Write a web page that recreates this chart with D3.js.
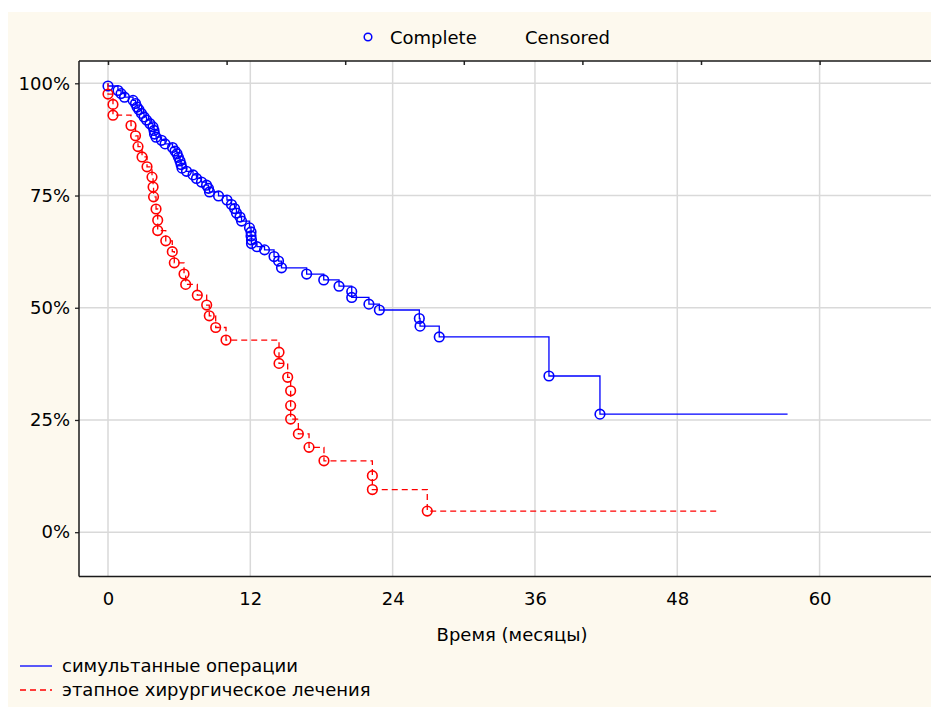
<!DOCTYPE html>
<html>
<head>
<meta charset="utf-8">
<script src="https://cdn.jsdelivr.net/npm/d3@7"></script>
<style>
  body { margin: 0; background: #ffffff; }
  svg { display: block; }
  text { font-family: "DejaVu Sans", sans-serif; font-size: 18px; fill: #000; }
</style>
</head>
<body>
<svg id="chart" width="931" height="707"></svg>
<script>
// ---- data (months, survival %) ----
const blueName = "симультанные операции";
const redName = "этапное хирургическое лечения";
const blueTimes = [0,0.84,1.10,1.39,2.11,2.32,2.45,2.61,2.82,3.04,3.25,3.54,3.79,3.88,3.92,4.05,4.51,4.81,5.44,5.65,5.82,5.94,6.07,6.16,6.24,6.62,7.17,7.46,7.88,8.31,8.47,8.56,9.32,10.03,10.41,10.67,10.83,11.13,11.26,11.93,12.06,12.06,12.10,12.10,12.56,13.20,14.00,14.38,14.63,16.75,18.19,19.48,20.55,20.55,22.00,22.88,26.25,26.31,27.93,37.18,41.48];
const blueSurv = [99.4,98.4,97.7,96.9,96.2,95.5,94.7,94.1,93.3,92.5,91.8,91.0,90.3,89.5,88.7,88.0,87.3,86.5,85.7,84.9,84.3,83.5,82.7,81.9,81.1,80.4,79.6,78.8,78.0,77.3,76.6,75.8,74.9,74.0,73.0,72.1,71.1,70.2,69.3,67.8,66.9,66.0,65.1,64.3,63.6,62.9,61.4,60.4,58.9,57.5,56.2,54.8,53.6,52.3,50.8,49.5,47.6,45.9,43.5,34.8,26.3];
const blueEnd = 57.3;
const redTimes = [0,0.42,0.42,1.94,2.32,2.53,2.87,3.29,3.71,3.80,3.84,4.05,4.19,4.19,4.87,5.42,5.59,6.41,6.55,7.53,8.32,8.54,9.08,9.95,14.42,14.42,15.15,15.40,15.40,15.40,16.05,16.95,18.21,22.29,22.29,26.92];
const redSurv = [97.6,95.3,92.9,90.6,88.3,85.9,83.6,81.4,79.1,76.9,74.7,72.0,69.5,67.2,64.9,62.5,60.0,57.5,55.2,52.8,50.6,48.2,45.6,42.8,40.1,37.6,34.5,31.5,28.2,25.2,21.9,18.9,15.9,12.6,9.5,4.7];
const redEnd = 51.6;
const xTicks = [0,12,24,36,48,60];
const topTicks = [0,10,20,30,40,50,60];
const yTicks = [0,25,50,75,100];
const yTickLabels = ["0%","25%","50%","75%","100%"];
const xTitle = "Время (месяцы)";
const topLegend = ["Complete","Censored"];

// ---- layout ----
const svg = d3.select("#chart");
const frame = {left: 79, top: 61, right: 940, bottom: 576.5};
const x = d3.scaleLinear().domain([0, 60]).range([108, 819.6]);
const y = d3.scaleLinear().domain([0, 100]).range([532.2, 83.3]);
const BLUE = "#0000ff", RED = "#ff0000";

// background
svg.append("rect").attr("x", 8).attr("y", 12).attr("width", 931 - 8).attr("height", 707 - 12).attr("fill", "#fdf9ee");
svg.append("rect").attr("x", frame.left).attr("y", frame.top)
  .attr("width", frame.right - frame.left).attr("height", frame.bottom - frame.top).attr("fill", "#ffffff");

// gridlines
const grid = svg.append("g").attr("stroke", "#d9d9d9").attr("stroke-width", 1.5);
grid.selectAll("line.v").data(xTicks).join("line")
  .attr("x1", d => x(d)).attr("x2", d => x(d)).attr("y1", frame.top).attr("y2", frame.bottom);
grid.selectAll("line.h").data(yTicks).join("line")
  .attr("x1", frame.left).attr("x2", frame.right).attr("y1", d => y(d)).attr("y2", d => y(d));

// axes
const leftAxis = d3.axisLeft(y).tickValues(yTicks).tickSize(4).tickPadding(5)
  .tickFormat((d, i) => yTickLabels[i]);
const gL = svg.append("g").attr("transform", `translate(${frame.left},0)`).call(leftAxis);
gL.select(".domain").remove();
gL.selectAll(".tick line").attr("stroke", "#222").attr("stroke-width", 1.3);
gL.selectAll(".tick text").style("font-family", "DejaVu Sans").style("font-size", "18px").attr("fill", "#000");

const bottomAxis = d3.axisBottom(x).tickValues(xTicks).tickSize(0).tickPadding(0);
const gB = svg.append("g").attr("transform", `translate(0,${frame.bottom})`).call(bottomAxis);
gB.select(".domain").remove();
gB.selectAll(".tick text").attr("dy", null).attr("y", 28.5)
  .style("font-family", "DejaVu Sans").style("font-size", "18px").attr("fill", "#000");

const topAxis = d3.axisBottom(x).tickValues(topTicks).tickSize(4).tickFormat("");
const gT = svg.append("g").attr("transform", `translate(0,${frame.top})`).call(topAxis);
gT.select(".domain").remove();
gT.selectAll(".tick line").attr("stroke", "#222").attr("stroke-width", 1.5);

// frame lines
const fr = svg.append("g").attr("stroke", "#1a1a1a").attr("stroke-width", 1.5).attr("fill", "none");
fr.append("line").attr("x1", frame.left).attr("x2", frame.right).attr("y1", frame.top).attr("y2", frame.top);
fr.append("line").attr("x1", frame.left).attr("x2", frame.right).attr("y1", frame.bottom).attr("y2", frame.bottom);
fr.append("line").attr("x1", frame.left).attr("x2", frame.left).attr("y1", frame.top).attr("y2", frame.bottom);

// curves
const stepLine = d3.line().x(d => x(d[0])).y(d => y(d[1])).curve(d3.curveStepAfter);
function series(times, surv, end, color, dash) {
  const pts = [[0, 100]].concat(times.map((t, i) => [t, surv[i]]), [[end, surv[surv.length - 1]]]);
  svg.append("path").datum(pts).attr("d", stepLine).attr("fill", "none")
    .attr("stroke", color).attr("stroke-width", 1.3).attr("stroke-dasharray", dash);
  svg.append("g").selectAll("circle").data(times.map((t, i) => [t, surv[i]])).join("circle")
    .attr("cx", d => x(d[0])).attr("cy", d => y(d[1])).attr("r", 4.8)
    .attr("fill", "none").attr("stroke", color).attr("stroke-width", 1.6);
}
series(blueTimes, blueSurv, blueEnd, BLUE, null);
series(redTimes, redSurv, redEnd, RED, "6,4");

// top legend
svg.append("circle").attr("cx", 368).attr("cy", 37).attr("r", 3.8).attr("fill", "none")
  .attr("stroke", BLUE).attr("stroke-width", 1.5);
svg.append("text").attr("x", 390).attr("y", 44).text(topLegend[0]);
svg.append("text").attr("x", 525).attr("y", 44).text(topLegend[1]);

// axis title
svg.append("text").attr("x", 512).attr("y", 641).attr("text-anchor", "middle").text(xTitle);

// bottom legend
const leg = [[blueName, BLUE, null], [redName, RED, "6,4"]];
leg.forEach((d, i) => {
  const yy = 666 + i * 24;
  svg.append("line").attr("x1", 20).attr("x2", 52).attr("y1", yy).attr("y2", yy)
    .attr("stroke", d[1]).attr("stroke-width", 1.3).attr("stroke-dasharray", d[2]);
  svg.append("text").attr("x", 62).attr("y", yy + 6).text(d[0]);
});
</script>
</body>
</html>
